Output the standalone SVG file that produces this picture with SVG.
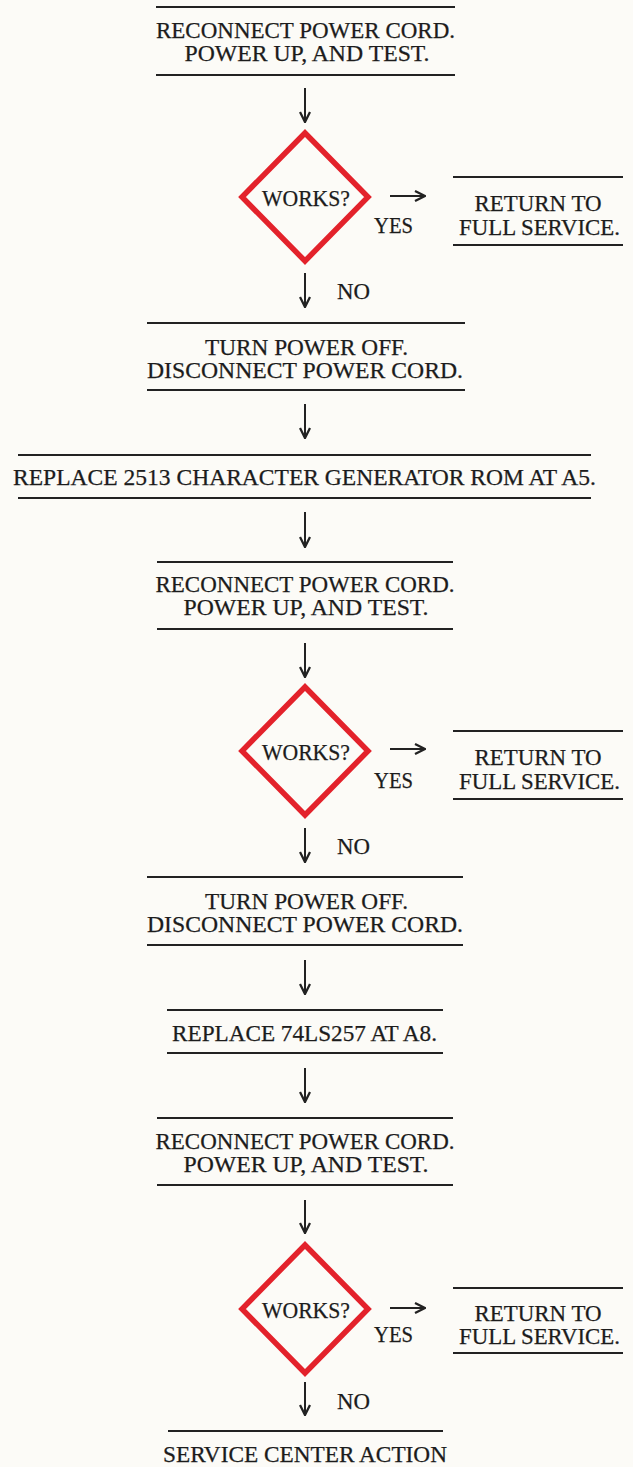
<svg xmlns="http://www.w3.org/2000/svg" width="633" height="1467" viewBox="0 0 633 1467">
<defs>
<style>
.t{font-family:"Liberation Serif","Times New Roman",serif;font-size:23px;fill:#1c1c1c;stroke:#1c1c1c;stroke-width:0.25;text-anchor:middle}
.s{text-anchor:start}
.r{stroke:#222;stroke-width:2;fill:none}
.d{fill:none;stroke:#e3222b;stroke-width:5.5;stroke-linejoin:miter}
.a{stroke:#222;stroke-width:2;fill:none;marker-end:url(#ah)}
</style>
<marker id="ah" viewBox="0 0 12 12" refX="11" refY="6" markerWidth="12" markerHeight="12" markerUnits="userSpaceOnUse" orient="auto">
<path d="M1,1 L11,6 L1,11" fill="none" stroke="#222" stroke-width="2.3"/>
</marker>
</defs>
<rect width="633" height="1467" fill="#fcfbf7"/>

<g id="b1">
<line class="r" x1="156" y1="7" x2="455" y2="7"/>
<text class="t" x="305.5" y="38" textLength="299" lengthAdjust="spacingAndGlyphs">RECONNECT POWER CORD.</text>
<text class="t" x="307" y="61" textLength="245" lengthAdjust="spacingAndGlyphs">POWER UP, AND TEST.</text>
<line class="r" x1="156" y1="75" x2="455" y2="75"/>
</g>
<g id="d1">
<polygon class="d" points="305,133 368,197 305,261 242,197"/>
<text class="t" x="306" y="206" textLength="88" lengthAdjust="spacingAndGlyphs">WORKS?</text>
</g>
<g id="y1">
<text class="t" x="393.5" y="233" textLength="39" lengthAdjust="spacingAndGlyphs">YES</text>
</g>
<g id="r1">
<line class="r" x1="453" y1="177" x2="623" y2="177"/>
<text class="t" x="538" y="211" textLength="127" lengthAdjust="spacingAndGlyphs">RETURN TO</text>
<text class="t" x="539.5" y="235" textLength="161" lengthAdjust="spacingAndGlyphs">FULL SERVICE.</text>
<line class="r" x1="453" y1="245" x2="623" y2="245"/>
</g>
<g id="n1"><text class="t s" x="337" y="299" textLength="33" lengthAdjust="spacingAndGlyphs">NO</text></g>

<g id="b2">
<line class="r" x1="147" y1="323" x2="465" y2="323"/>
<text class="t" x="306.5" y="355" textLength="203" lengthAdjust="spacingAndGlyphs">TURN POWER OFF.</text>
<text class="t" x="305" y="378" textLength="316" lengthAdjust="spacingAndGlyphs">DISCONNECT POWER CORD.</text>
<line class="r" x1="147" y1="390" x2="465" y2="390"/>
</g>
<g id="b3">
<line class="r" x1="18" y1="455" x2="591" y2="455"/>
<text class="t" x="304.5" y="485" textLength="583" lengthAdjust="spacingAndGlyphs">REPLACE 2513 CHARACTER GENERATOR ROM AT A5.</text>
<line class="r" x1="18" y1="498" x2="591" y2="498"/>
</g>
<g id="b4">
<line class="r" x1="157" y1="562" x2="453" y2="562"/>
<text class="t" x="305" y="592" textLength="299" lengthAdjust="spacingAndGlyphs">RECONNECT POWER CORD.</text>
<text class="t" x="306" y="615" textLength="245" lengthAdjust="spacingAndGlyphs">POWER UP, AND TEST.</text>
<line class="r" x1="157" y1="629" x2="453" y2="629"/>
</g>
<g id="d2">
<polygon class="d" points="305,687 368,751 305,815 242,751"/>
<text class="t" x="306" y="760" textLength="88" lengthAdjust="spacingAndGlyphs">WORKS?</text>
</g>
<g id="y2"><text class="t" x="393.5" y="788" textLength="39" lengthAdjust="spacingAndGlyphs">YES</text></g>
<g id="r2">
<line class="r" x1="453" y1="731" x2="623" y2="731"/>
<text class="t" x="538" y="765" textLength="127" lengthAdjust="spacingAndGlyphs">RETURN TO</text>
<text class="t" x="539.5" y="789" textLength="161" lengthAdjust="spacingAndGlyphs">FULL SERVICE.</text>
<line class="r" x1="453" y1="799" x2="623" y2="799"/>
</g>
<g id="n2"><text class="t s" x="337" y="854" textLength="33" lengthAdjust="spacingAndGlyphs">NO</text></g>

<g id="b5">
<line class="r" x1="147" y1="877" x2="463" y2="877"/>
<text class="t" x="306.5" y="909" textLength="203" lengthAdjust="spacingAndGlyphs">TURN POWER OFF.</text>
<text class="t" x="305" y="932" textLength="316" lengthAdjust="spacingAndGlyphs">DISCONNECT POWER CORD.</text>
<line class="r" x1="147" y1="945" x2="463" y2="945"/>
</g>
<g id="b6">
<line class="r" x1="167" y1="1010" x2="443" y2="1010"/>
<text class="t" x="304.5" y="1041" textLength="265" lengthAdjust="spacingAndGlyphs">REPLACE 74LS257 AT A8.</text>
<line class="r" x1="167" y1="1053" x2="443" y2="1053"/>
</g>
<g id="b7">
<line class="r" x1="157" y1="1118" x2="453" y2="1118"/>
<text class="t" x="305" y="1149" textLength="299" lengthAdjust="spacingAndGlyphs">RECONNECT POWER CORD.</text>
<text class="t" x="306" y="1172" textLength="245" lengthAdjust="spacingAndGlyphs">POWER UP, AND TEST.</text>
<line class="r" x1="157" y1="1185" x2="453" y2="1185"/>
</g>
<g id="d3">
<polygon class="d" points="305,1245 368,1309 305,1373 242,1309"/>
<text class="t" x="306" y="1318" textLength="88" lengthAdjust="spacingAndGlyphs">WORKS?</text>
</g>
<g id="y3"><text class="t" x="393.5" y="1342" textLength="39" lengthAdjust="spacingAndGlyphs">YES</text></g>
<g id="r3">
<line class="r" x1="453" y1="1288" x2="623" y2="1288"/>
<text class="t" x="538" y="1321" textLength="127" lengthAdjust="spacingAndGlyphs">RETURN TO</text>
<text class="t" x="539.5" y="1344" textLength="161" lengthAdjust="spacingAndGlyphs">FULL SERVICE.</text>
<line class="r" x1="453" y1="1353" x2="623" y2="1353"/>
</g>
<g id="n3"><text class="t s" x="337" y="1409" textLength="33" lengthAdjust="spacingAndGlyphs">NO</text></g>
<g id="b8">
<line class="r" x1="168" y1="1431" x2="443" y2="1431"/>
<text class="t" x="305" y="1462" textLength="284" lengthAdjust="spacingAndGlyphs">SERVICE CENTER ACTION</text>
</g>

<g id="connectors">
<line class="a" x1="305" y1="88" x2="305" y2="122"/>
<line class="a" x1="390" y1="196" x2="425" y2="196"/>
<line class="a" x1="305" y1="273" x2="305" y2="307"/>
<line class="a" x1="305" y1="404" x2="305" y2="438"/>
<line class="a" x1="305" y1="512" x2="305" y2="547"/>
<line class="a" x1="305" y1="643" x2="305" y2="677"/>
<line class="a" x1="390" y1="749" x2="425" y2="749"/>
<line class="a" x1="305" y1="828" x2="305" y2="862"/>
<line class="a" x1="305" y1="960" x2="305" y2="994"/>
<line class="a" x1="305" y1="1068" x2="305" y2="1102"/>
<line class="a" x1="305" y1="1200" x2="305" y2="1233"/>
<line class="a" x1="390" y1="1308" x2="425" y2="1308"/>
<line class="a" x1="305" y1="1382" x2="305" y2="1415"/>
</g>
</svg>
